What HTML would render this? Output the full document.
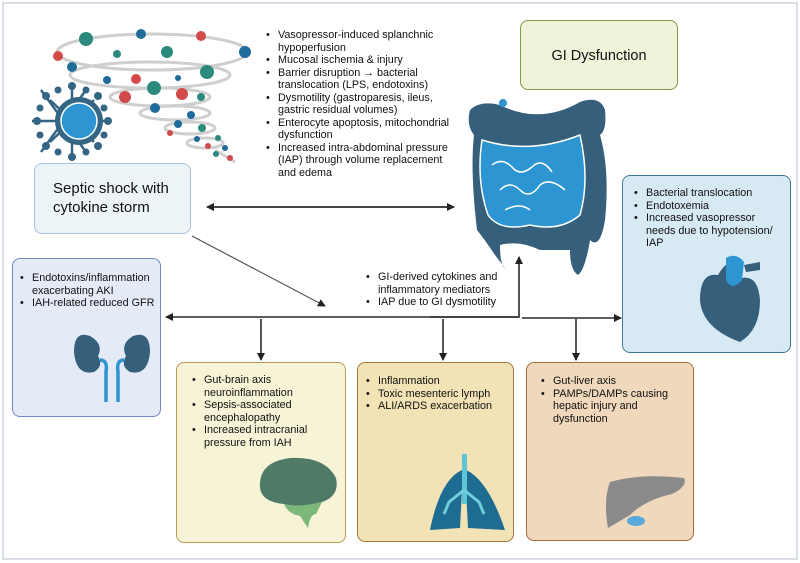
<!DOCTYPE html>
<html><head><meta charset="utf-8"><style>
*{margin:0;padding:0;box-sizing:border-box}
body{width:800px;height:563px;background:#fff;position:relative;overflow:hidden;font-family:"Liberation Sans",sans-serif;color:#111}
.frame{position:absolute;left:2px;top:2px;width:796px;height:558px;border:2px solid #d8dde8}
.box{position:absolute;border-radius:8px;border:1.5px solid}
ul{position:absolute;list-style:none;font-size:10.8px;line-height:12.5px}
li{position:relative;padding-left:12px}
li:before{content:"•";position:absolute;left:0;top:0}
svg{position:absolute;left:0;top:0}
</style></head><body>
<div class="frame"></div>
<div class="box" style="left:34px;top:163px;width:157px;height:71px;background:#edf4f8;border-color:#a7c3e6;font-size:15px;line-height:19px;padding:15px 0 0 18px">Septic shock with<br>cytokine storm</div>
<div class="box" style="left:520px;top:20px;width:158px;height:70px;background:#eef3d9;border-color:#7f9b43;font-size:14.5px;text-align:center;padding-top:27px">GI Dysfunction</div>
<div class="box" style="left:622px;top:175px;width:169px;height:178px;background:#d7e9f3;border-color:#3f7a93"></div>
<div class="box" style="left:12px;top:258px;width:149px;height:159px;background:#e5eaf7;border-color:#6f87c8"></div>
<div class="box" style="left:176px;top:362px;width:170px;height:181px;background:#f6f3d6;border-color:#b99a52"></div>
<div class="box" style="left:357px;top:362px;width:157px;height:180px;background:#f1e3b5;border-color:#a8753a"></div>
<div class="box" style="left:526px;top:362px;width:168px;height:179px;background:#efd8bb;border-color:#a86b3b"></div>

<ul style="left:266px;top:29px;width:186px">
<li>Vasopressor-induced splanchnic hypoperfusion</li>
<li>Mucosal ischemia &amp; injury</li>
<li>Barrier disruption → bacterial translocation (LPS, endotoxins)</li>
<li>Dysmotility (gastroparesis, ileus, gastric residual volumes)</li>
<li>Enterocyte apoptosis, mitochondrial dysfunction</li>
<li>Increased intra-abdominal pressure (IAP) through volume replacement and edema</li>
</ul>
<ul style="left:634px;top:187px;width:140px"><li>Bacterial translocation</li><li>Endotoxemia</li><li>Increased vasopressor needs due to hypotension/ IAP</li></ul>
<ul style="left:20px;top:272px;width:140px"><li>Endotoxins/inflammation exacerbating AKI</li><li>IAH-related reduced GFR</li></ul>
<ul style="left:366px;top:271px;width:160px"><li>GI-derived cytokines and inflammatory mediators</li><li>IAP due to GI dysmotility</li></ul>
<ul style="left:192px;top:374px;width:150px"><li>Gut-brain axis neuroinflammation</li><li>Sepsis-associated encephalopathy</li><li>Increased intracranial pressure from IAH</li></ul>
<ul style="left:366px;top:375px;width:145px"><li>Inflammation</li><li>Toxic mesenteric lymph</li><li>ALI/ARDS exacerbation</li></ul>
<ul style="left:541px;top:375px;width:130px"><li>Gut-liver axis</li><li>PAMPs/DAMPs causing hepatic injury and dysfunction</li></ul>

<svg width="800" height="563" viewBox="0 0 800 563">
<defs><marker id="a" markerWidth="8" markerHeight="8" refX="7" refY="4" orient="auto" markerUnits="userSpaceOnUse"><path d="M0,0 L8,4 L0,8z" fill="#222"/></marker></defs>
<g stroke="#2a2a2a" stroke-width="1.6" fill="none">
<line x1="215" y1="207" x2="454" y2="207" marker-end="url(#a)"/>
<line x1="454" y1="207" x2="207" y2="207" marker-end="url(#a)"/>
<line x1="192" y1="236" x2="325" y2="306" stroke="#555" stroke-width="1.2" marker-end="url(#a)"/>
<line x1="519" y1="317" x2="166" y2="317" marker-end="url(#a)"/>
<polyline points="430,317 519,317 519,257" marker-end="url(#a)"/>
<line x1="522" y1="318" x2="621" y2="318" marker-end="url(#a)"/>
<line x1="261" y1="319" x2="261" y2="360" marker-end="url(#a)"/>
<line x1="443" y1="319" x2="443" y2="360" marker-end="url(#a)"/>
<line x1="576" y1="319" x2="576" y2="360" marker-end="url(#a)"/>
</g>
<g stroke="#cfcfcf" stroke-width="3" fill="none">
<ellipse cx="152" cy="52" rx="95" ry="18"/>
<ellipse cx="150" cy="75" rx="80" ry="13"/>
<ellipse cx="160" cy="97" rx="50" ry="9"/>
<ellipse cx="175" cy="113" rx="35" ry="7"/>
<ellipse cx="190" cy="128" rx="25" ry="6"/>
<ellipse cx="205" cy="143" rx="18" ry="5"/>
<path d="M215,150 L235,162"/>
</g>
<g>
<circle cx="86" cy="39" r="7" fill="#2b8a7d"/><circle cx="141" cy="34" r="5" fill="#1f6b9a"/><circle cx="201" cy="36" r="5" fill="#d24a4a"/>
<circle cx="58" cy="56" r="5" fill="#d24a4a"/><circle cx="117" cy="54" r="4" fill="#2b8a7d"/><circle cx="167" cy="52" r="6" fill="#2b8a7d"/><circle cx="245" cy="52" r="6" fill="#1f6b9a"/>
<circle cx="72" cy="67" r="5" fill="#1f6b9a"/><circle cx="207" cy="72" r="7" fill="#2b8a7d"/><circle cx="107" cy="80" r="4" fill="#1f6b9a"/><circle cx="136" cy="79" r="5" fill="#d24a4a"/><circle cx="178" cy="78" r="3" fill="#1f6b9a"/>
<circle cx="154" cy="88" r="7" fill="#2b8a7d"/><circle cx="182" cy="94" r="6" fill="#d24a4a"/><circle cx="125" cy="97" r="6" fill="#d24a4a"/><circle cx="201" cy="97" r="4" fill="#2b8a7d"/>
<circle cx="155" cy="108" r="5" fill="#1f6b9a"/><circle cx="191" cy="115" r="4" fill="#1f6b9a"/><circle cx="178" cy="124" r="4" fill="#1f6b9a"/><circle cx="202" cy="128" r="4" fill="#2b8a7d"/>
<circle cx="170" cy="133" r="3" fill="#d24a4a"/><circle cx="197" cy="139" r="3" fill="#1f6b9a"/><circle cx="218" cy="138" r="3" fill="#2b8a7d"/><circle cx="208" cy="146" r="3" fill="#d24a4a"/><circle cx="225" cy="148" r="3" fill="#1f6b9a"/><circle cx="216" cy="154" r="3" fill="#2b8a7d"/><circle cx="230" cy="158" r="3" fill="#d24a4a"/>
</g>
<g stroke="#356584" stroke-width="2.5">
<line x1="41" y1="90" x2="86" y2="152"/><line x1="86" y1="90" x2="41" y2="152"/><line x1="32" y1="121" x2="110" y2="121"/><line x1="72" y1="86" x2="72" y2="158"/>
<line x1="50" y1="100" x2="94" y2="142"/><line x1="94" y1="100" x2="50" y2="142"/>
</g>
<g fill="#356584">
<circle cx="72" cy="86" r="4"/><circle cx="72" cy="157" r="4"/><circle cx="37" cy="121" r="4"/><circle cx="108" cy="121" r="4"/>
<circle cx="46" cy="96" r="4"/><circle cx="98" cy="96" r="4"/><circle cx="46" cy="146" r="4"/><circle cx="98" cy="146" r="4"/>
<circle cx="58" cy="90" r="3.5"/><circle cx="86" cy="90" r="3.5"/><circle cx="58" cy="152" r="3.5"/><circle cx="86" cy="152" r="3.5"/>
<circle cx="40" cy="108" r="3.5"/><circle cx="40" cy="135" r="3.5"/><circle cx="104" cy="108" r="3.5"/><circle cx="104" cy="135" r="3.5"/>
<circle cx="79" cy="121" r="24"/></g>
<circle cx="79" cy="121" r="18" fill="#2e95d3" stroke="#fff" stroke-width="1.5"/>
<path d="M470,110 Q480,100 500,105 Q540,125 580,102 Q600,95 605,110 Q607,130 600,135 Q610,170 605,220 Q600,250 590,240 Q585,270 578,275 Q570,270 570,250 L540,250 Q520,240 500,245 Q500,265 505,268 L495,255 Q485,240 477,230 Q470,170 474,135 Q466,125 470,110Z" fill="#355f7a"/>
<circle cx="503" cy="103" r="4" fill="#2e95d3"/>
<path d="M482,140 Q530,155 580,135 Q590,180 580,215 Q560,232 530,225 Q500,232 488,215 Q476,180 482,140Z" fill="#2e95d3" stroke="#fff" stroke-width="1.5"/>
<g stroke="#fff" stroke-width="1.5" fill="none"><path d="M492,165 q10,-8 20,2 q8,10 20,0 q10,-10 20,5 M500,190 q10,-10 20,0 q10,10 20,-5 q10,-8 25,5 M505,210 q15,-8 25,0"/></g>
<path d="M718,275 Q700,272 700,300 Q702,328 740,342 Q760,330 760,300 Q758,275 742,278 L738,262 Q728,258 718,275Z" fill="#355f7a"/>
<path d="M726,258 L726,280 Q732,292 742,280 L744,262 Q736,252 726,258Z" fill="#2e95d3"/>
<path d="M744,265 L760,262 L760,270 L746,272Z" fill="#355f7a"/>
<path d="M90,336 Q74,330 74,352 Q76,376 94,372 Q104,366 98,356 Q104,344 90,336Z M133,336 Q150,330 150,352 Q148,376 130,372 Q120,366 126,356 Q120,344 133,336Z" fill="#355f7a"/>
<path d="M100,360 q8,0 6,12 v30 M124,360 q-8,0 -6,12 v30" stroke="#2e95d3" stroke-width="3.5" fill="none"/>
<path d="M260,488 Q258,462 290,458 Q325,456 336,478 Q340,496 322,502 Q300,508 284,504 Q262,502 260,488Z" fill="#4f7a66"/>
<path d="M284,504 q15,4 38,-2 l-6,12 q-6,0 -8,14 l-8,-12 q-12,-2 -16,-12z" fill="#7cb87a"/>
<path d="M462,470 Q440,480 430,530 L460,528 L462,490Z M466,470 Q488,480 505,530 L468,528 L466,490Z" fill="#1f6c93"/>
<rect x="462" y="454" width="5" height="50" fill="#5ec4d6"/>
<path d="M464,490 l-15,12 l-5,12 M464,490 l15,12 l5,12" stroke="#6fd0d8" stroke-width="3" fill="none"/>
<path d="M610,482 Q640,473 684,478 Q688,486 672,494 Q645,500 630,515 L608,528 Q603,500 610,482Z" fill="#8a8a8a"/>
<ellipse cx="636" cy="521" rx="9" ry="5" fill="#5aa9dd"/>
</svg>
</body></html>
